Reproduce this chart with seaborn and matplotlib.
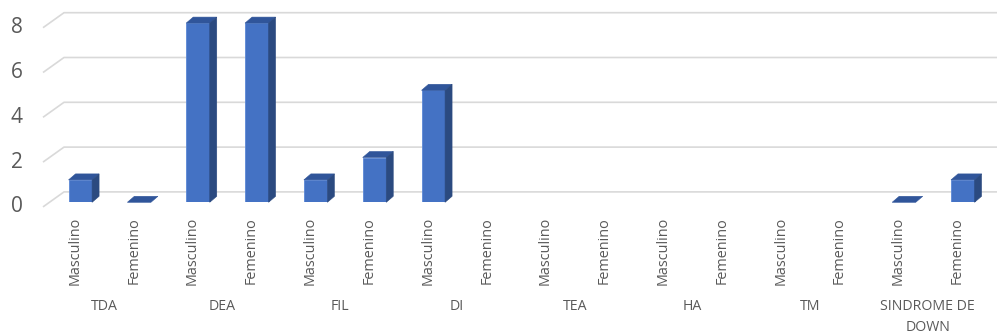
import numpy as np
import pandas as pd
import seaborn as sns
import matplotlib
matplotlib.use("Agg")
import matplotlib.pyplot as plt
from matplotlib.patches import Polygon
from matplotlib.transforms import ScaledTranslation, blended_transform_factory

# Data: cases by condition and sex (None = no record)
grupos = ["TDA", "DEA", "FIL", "DI", "TEA", "HA", "TM", "SINDROME DE\nDOWN"]
sexos = ["Masculino", "Femenino"]
masculino = [1, 8, 1, 5, None, None, None, 0]
femenino = [0, 8, 2, None, None, None, None, 1]
y_ticks = [0, 2, 4, 6, 8]

rows = []
for i, g in enumerate(grupos):
    for s, vals in zip(sexos, (masculino, femenino)):
        rows.append({"clave": f"{i}-{s}", "grupo": g, "sexo": s,
                     "valor": np.nan if vals[i] is None else vals[i]})
df = pd.DataFrame(rows)
orden = list(df["clave"])

FRONT = "#4472C4"
TOP = "#30559A"
SIDE = "#2B4A80"
EDGE = "#5B88D6"
GRID = "#D9D9D9"
TEXT = "#595959"
FONT = "Open Sans"

sns.set_theme(style="white")
plt.rcParams["font.family"] = [FONT, "DejaVu Sans"]

W, H, DPI = 997, 336, 100
fig = plt.figure(figsize=(W / DPI, H / DPI), dpi=DPI)
fig.patch.set_facecolor("white")

# axes placement in pixels (front plane of the bars)
x0_px, x1_px = 50.9, 992.2
ybot_px, ytop_px = 202.3, 23.1
ax = fig.add_axes([x0_px / W, (H - ybot_px) / H,
                   (x1_px - x0_px) / W, (ybot_px - ytop_px) / H])
ax.set_facecolor("none")

sns.barplot(data=df, x="clave", y="valor", order=orden, color=FRONT,
            saturation=1, width=0.4, edgecolor=EDGE, linewidth=0.6,
            errorbar=None, ax=ax, zorder=3)
ax.set_xlim(-0.5, len(orden) - 0.5)
ax.set_ylim(0, 8)

px_x = (x1_px - x0_px) / len(orden)        # pixels per category
px_y = (ybot_px - ytop_px) / 8.0            # pixels per unit

# gridlines: back wall plus receding edge on the left
back_dy = 10.4 / px_y
front_dy = -4.6 / px_y
bx0 = (64 - x0_px) / px_x - 0.5
bx1 = (997 - x0_px) / px_x - 0.5
fx0 = (43 - x0_px) / px_x - 0.5
for v in y_ticks:
    ax.plot([fx0, bx0, bx1], [v + front_dy, v + back_dy, v + back_dy],
            color=GRID, lw=1.2, clip_on=False, zorder=0,
            solid_capstyle="butt")

# depth faces for each column
ddx = 7.0 / px_x
ddy = 6.0 / px_y
for p in list(ax.patches):
    h = p.get_height()
    if h is None or np.isnan(h):
        continue
    xa = p.get_x()
    xb = xa + p.get_width()
    top = Polygon([(xa, h), (xa + ddx, h + ddy), (xb + ddx, h + ddy), (xb, h)],
                  closed=True, facecolor=TOP, edgecolor=TOP, lw=0.4,
                  zorder=3, clip_on=False)
    ax.add_patch(top)
    if h > 0:
        side = Polygon([(xb, 0), (xb + ddx, ddy), (xb + ddx, h + ddy), (xb, h)],
                       closed=True, facecolor=SIDE, edgecolor=SIDE, lw=0.4,
                       zorder=3, clip_on=False)
        ax.add_patch(side)

for s in ax.spines.values():
    s.set_visible(False)
ax.set_xticks([])
ax.set_yticks([])
ax.set_xlabel("")
ax.set_ylabel("")

# y labels, aligned with the front edge of each gridline
ytr = blended_transform_factory(fig.transFigure, ax.transData)
for v in y_ticks:
    ax.text(16.5 / W, v + front_dy, str(v), transform=ytr, ha="center",
            va="center", fontsize=15, color=TEXT, family=[FONT, "DejaVu Sans"])

# category labels (sex), rotated
shift = ScaledTranslation(-5.5 / DPI, 0, fig.dpi_scale_trans)
xtr = ax.get_xaxis_transform() + shift
lab_top = -(217 - ybot_px) / (ybot_px - ytop_px)
for k, row in df.iterrows():
    ax.text(k, lab_top, row["sexo"], transform=xtr, rotation=90,
            ha="center", va="top", fontsize=10.4, color=TEXT,
            family=[FONT, "DejaVu Sans"])

# group labels
grp_y = -(299 - ybot_px) / (ybot_px - ytop_px)
for i, g in enumerate(grupos):
    ax.text(2 * i + 0.5, grp_y, g, transform=xtr, ha="center", va="top",
            fontsize=10.2, color=TEXT, linespacing=1.55,
            family=[FONT, "DejaVu Sans"])

fig.savefig("out.png", dpi=DPI, facecolor="white")
